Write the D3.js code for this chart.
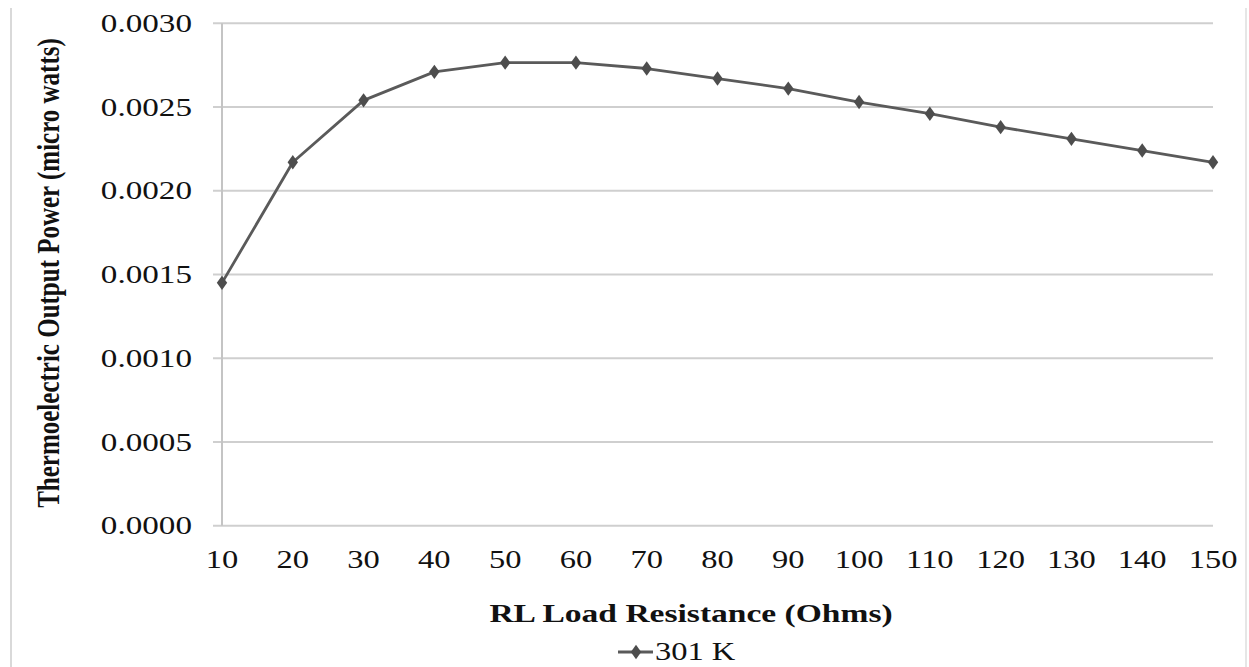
<!DOCTYPE html>
<html>
<head>
<meta charset="utf-8">
<script src="https://cdn.jsdelivr.net/npm/d3@7"></script>
<style>
  html, body { margin: 0; padding: 0; background: #fff; }
  svg { display: block; }
  text { font-family: "Liberation Serif", "Times New Roman", serif; fill: #111; }
</style>
</head>
<body>
<svg id="chart" width="1249" height="667"></svg>
<script>
const resistance = [10, 20, 30, 40, 50, 60, 70, 80, 90, 100, 110, 120, 130, 140, 150];
const power301K = [0.00145, 0.00217, 0.00254, 0.00271, 0.002765, 0.002765, 0.00273, 0.00267, 0.00261, 0.00253, 0.00246, 0.00238, 0.00231, 0.00224, 0.00217];
const yTicks = [0, 0.0005, 0.0010, 0.0015, 0.0020, 0.0025, 0.0030];
const seriesName = "301 K";
const xTitle = "RL Load Resistance (Ohms)";
const yTitle = "Thermoelectric Output Power (micro watts)";

(function () {
const svg = d3.select("#chart");
const W = 1249, H = 667;
const sx = 1.3; // horizontal stretch of the reference image text

const pLeft = 222, pRight = 1213, pTop = 23.3, pBottom = 525.7;
const x = d3.scaleLinear().domain([10, 150]).range([pLeft, pRight]);
const y = d3.scaleLinear().domain([0, 0.003]).range([pBottom, pTop]);

// frame lines
svg.append("line").attr("x1", 11).attr("x2", 11).attr("y1", 8).attr("y2", H)
  .attr("stroke", "#d9d9d9").attr("stroke-width", 2);
svg.append("line").attr("x1", 1246).attr("x2", 1246).attr("y1", 8).attr("y2", H)
  .attr("stroke", "#e6e6e6").attr("stroke-width", 2);

// gridlines
svg.append("g").selectAll("line").data(yTicks).join("line")
  .attr("x1", pLeft - 9).attr("x2", pRight)
  .attr("y1", d => y(d)).attr("y2", d => y(d))
  .attr("stroke", "#cfcfcf").attr("stroke-width", 2);

// y axis line
svg.append("line").attr("x1", pLeft).attr("x2", pLeft).attr("y1", pTop).attr("y2", pBottom)
  .attr("stroke", "#c4c4c4").attr("stroke-width", 2);

// y tick labels
svg.append("g").selectAll("text").data(yTicks).join("text")
  .attr("transform", d => `translate(192,${y(d)}) scale(${sx},1)`)
  .attr("text-anchor", "end")
  .attr("dy", "0.34em")
  .style("font-size", "25.5px")
  .text(d => d3.format(".4f")(d));

// x tick labels
svg.append("g").selectAll("text").data(resistance).join("text")
  .attr("transform", d => `translate(${x(d)},568) scale(${sx},1)`)
  .attr("text-anchor", "middle")
  .style("font-size", "25px")
  .text(d => d);

// line
const line = d3.line().x((d, i) => x(resistance[i])).y(d => y(d));
svg.append("path").datum(power301K)
  .attr("d", line)
  .attr("fill", "none")
  .attr("stroke", "#5a5a5a")
  .attr("stroke-width", 2.8)
  .attr("stroke-linejoin", "round");

// markers
const diamond = d3.symbol().type(d3.symbolDiamond).size(60);
svg.append("g").selectAll("path").data(power301K).join("path")
  .attr("d", diamond)
  .attr("transform", (d, i) => `translate(${x(resistance[i])},${y(d)}) scale(1.25,1)`)
  .attr("fill", "#4d4d4d");

// axis titles
svg.append("text")
  .attr("transform", `translate(691,622) scale(${sx},1)`)
  .attr("text-anchor", "middle")
  .style("font-size", "25.8px").style("font-weight", "bold")
  .text(xTitle);

svg.append("text")
  .attr("transform", `translate(59,273) scale(${sx},1) rotate(-90)`)
  .attr("text-anchor", "middle")
  .style("font-size", "25px").style("font-weight", "bold")
  .text(yTitle);

// legend
const lg = svg.append("g");
lg.append("line").attr("x1", 618).attr("x2", 653).attr("y1", 652).attr("y2", 652)
  .attr("stroke", "#5a5a5a").attr("stroke-width", 2.8);
lg.append("path").attr("d", diamond)
  .attr("transform", "translate(636,652) scale(1.25,1)").attr("fill", "#4d4d4d");
lg.append("text")
  .attr("transform", `translate(655,660) scale(${sx},1)`)
  .style("font-size", "25px")
  .text(seriesName);
})();
</script>
</body>
</html>
